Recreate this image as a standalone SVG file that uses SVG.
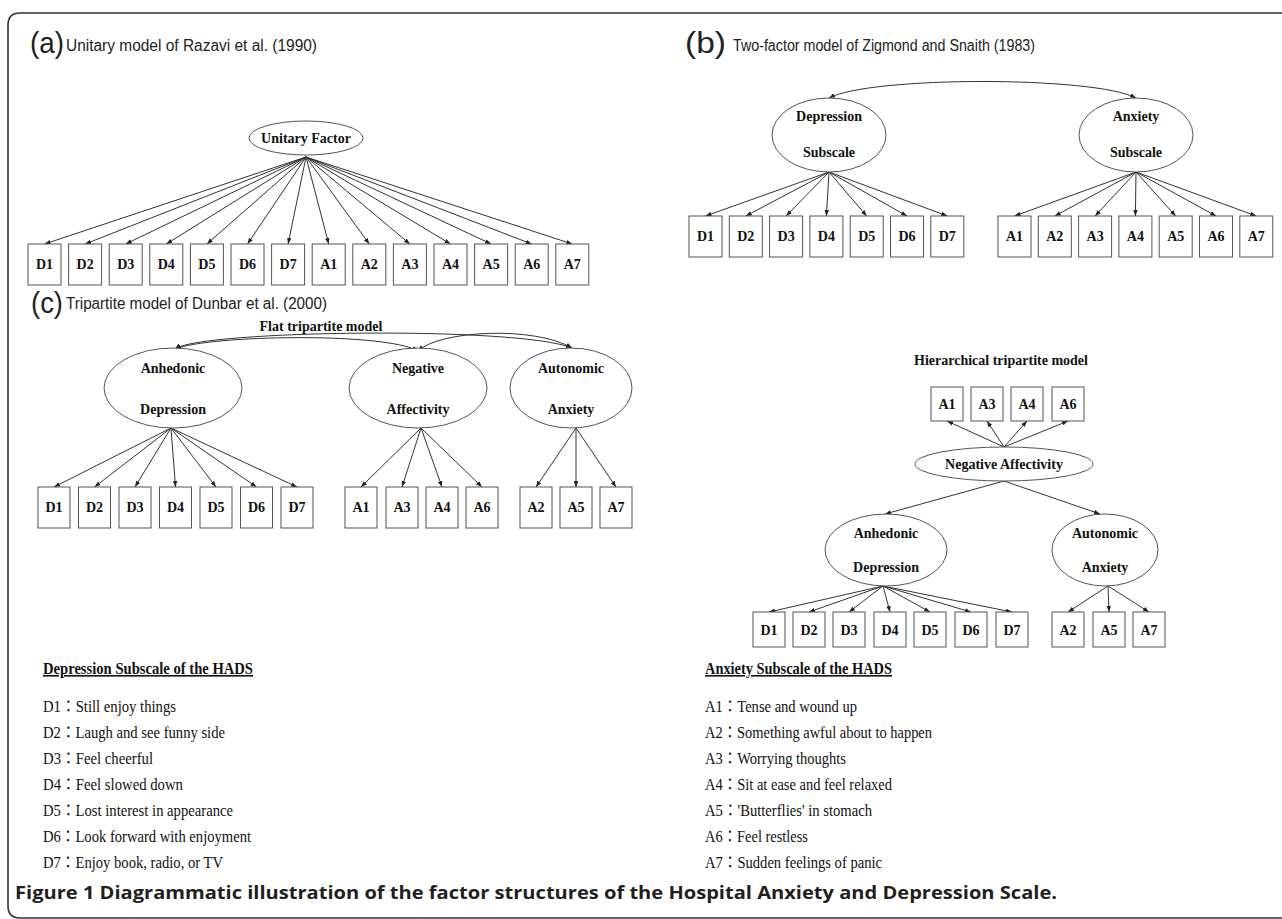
<svg xmlns="http://www.w3.org/2000/svg" width="1282" height="919" viewBox="0 0 1282 919">
<style>
.bg{fill:#fff}
.frame{fill:none;stroke:#333;stroke-width:1.6}
.box{fill:#fff;stroke:#555;stroke-width:1}
.ell{fill:#fff;stroke:#555;stroke-width:1}
.lbl{font-family:"Liberation Serif","Times New Roman",serif;font-weight:bold;font-size:14px;fill:#111;text-anchor:middle}
.ttl{font-family:"Liberation Sans",Arial,sans-serif;font-size:16px;fill:#222}
.big{font-family:"Liberation Sans",Arial,sans-serif;font-size:29px;fill:#222}
.sub{font-family:"Liberation Serif","Times New Roman",serif;font-weight:bold;font-size:14px;fill:#111;text-anchor:middle}
.leg{font-family:"Liberation Serif","Noto Sans CJK TC",serif;font-size:16px;fill:#111}
.legh{font-family:"Liberation Serif","Times New Roman",serif;font-weight:bold;font-size:16px;fill:#111;text-decoration:underline}
.cap{font-family:"Open Sans","Liberation Sans",sans-serif;font-weight:bold;font-size:18px;fill:#231f20}
.con path,.con line{fill:none;stroke:#333;stroke-width:1;marker-end:url(#ah)}
.con .dbl{marker-start:url(#ah)}
</style>
<defs>
<marker id="ah" viewBox="0 0 8 6" refX="8" refY="3" markerWidth="6" markerHeight="5" markerUnits="userSpaceOnUse" orient="auto-start-reverse"><path d="M0,0 L8,3 L0,6 z" fill="#222"/></marker>
</defs>
<rect class="bg" x="0" y="0" width="1282" height="919"/>
<path class="frame" d="M1290,918 L20,918 Q8,918 8,906 L8,25 Q8,13 20,13 L1290,13"/>

<!-- Panel titles -->
<text class="big" x="30" y="53" textLength="34" lengthAdjust="spacingAndGlyphs">(a)</text>
<text class="ttl" x="66" y="51" textLength="251" lengthAdjust="spacingAndGlyphs">Unitary model of Razavi et al. (1990)</text>
<text class="big" x="685" y="53" textLength="41" lengthAdjust="spacingAndGlyphs">(b)</text>
<text class="ttl" x="733" y="51" textLength="302" lengthAdjust="spacingAndGlyphs">Two-factor model of Zigmond and Snaith (1983)</text>
<text class="big" x="31" y="313" textLength="32" lengthAdjust="spacingAndGlyphs">(c)</text>
<text class="ttl" x="66" y="309" textLength="261" lengthAdjust="spacingAndGlyphs">Tripartite model of Dunbar et al. (2000)</text>
<text class="sub" x="321" y="331">Flat tripartite model</text>
<text class="sub" x="1001" y="365">Hierarchical tripartite model</text>

<!-- Connectors -->
<g id="connectors" class="con">
<!-- (a) -->
<line x1="306" y1="157" x2="44.5" y2="244"/>
<line x1="306" y1="157" x2="85.1" y2="244"/>
<line x1="306" y1="157" x2="125.7" y2="244"/>
<line x1="306" y1="157" x2="166.3" y2="244"/>
<line x1="306" y1="157" x2="206.9" y2="244"/>
<line x1="306" y1="157" x2="247.5" y2="244"/>
<line x1="306" y1="157" x2="288.1" y2="244"/>
<line x1="306" y1="157" x2="328.7" y2="244"/>
<line x1="306" y1="157" x2="369.3" y2="244"/>
<line x1="306" y1="157" x2="409.9" y2="244"/>
<line x1="306" y1="157" x2="450.5" y2="244"/>
<line x1="306" y1="157" x2="491.1" y2="244"/>
<line x1="306" y1="157" x2="531.7" y2="244"/>
<line x1="306" y1="157" x2="572.3" y2="244"/>
<!-- (b) -->
<path class="dbl" d="M829,98 C870,76 1095,76 1136,98"/>
<line x1="829" y1="172" x2="705.5" y2="216"/>
<line x1="829" y1="172" x2="745.8" y2="216"/>
<line x1="829" y1="172" x2="786.1" y2="216"/>
<line x1="829" y1="172" x2="826.4" y2="216"/>
<line x1="829" y1="172" x2="866.7" y2="216"/>
<line x1="829" y1="172" x2="907" y2="216"/>
<line x1="829" y1="172" x2="947.3" y2="216"/>
<line x1="1136" y1="172" x2="1014.5" y2="216"/>
<line x1="1136" y1="172" x2="1054.8" y2="216"/>
<line x1="1136" y1="172" x2="1095.1" y2="216"/>
<line x1="1136" y1="172" x2="1135.4" y2="216"/>
<line x1="1136" y1="172" x2="1175.7" y2="216"/>
<line x1="1136" y1="172" x2="1216" y2="216"/>
<line x1="1136" y1="172" x2="1256.3" y2="216"/>
<!-- (c) flat -->
<path class="dbl" d="M175,349 C200,330 520,326 572,348"/>
<path class="dbl" d="M175,349 C210,335 385,332 418,351"/>
<path class="dbl" d="M418,351 C440,330 535,326 572,348"/>
<line x1="171" y1="428" x2="54" y2="487"/>
<line x1="171" y1="428" x2="94.5" y2="487"/>
<line x1="171" y1="428" x2="135" y2="487"/>
<line x1="171" y1="428" x2="175.5" y2="487"/>
<line x1="171" y1="428" x2="216" y2="487"/>
<line x1="171" y1="428" x2="256.5" y2="487"/>
<line x1="171" y1="428" x2="297" y2="487"/>
<line x1="421" y1="428" x2="361" y2="487"/>
<line x1="421" y1="428" x2="402" y2="487"/>
<line x1="421" y1="428" x2="442" y2="487"/>
<line x1="421" y1="428" x2="482" y2="487"/>
<line x1="576" y1="428" x2="536" y2="487"/>
<line x1="576" y1="428" x2="576" y2="487"/>
<line x1="576" y1="428" x2="616" y2="487"/>
<!-- hierarchical -->
<line x1="1004" y1="447" x2="947" y2="421"/>
<line x1="1004" y1="447" x2="987" y2="421"/>
<line x1="1004" y1="447" x2="1027" y2="421"/>
<line x1="1004" y1="447" x2="1068" y2="421"/>
<line x1="1004" y1="481" x2="885" y2="514"/>
<line x1="1004" y1="481" x2="1100" y2="514"/>
<line x1="883" y1="586" x2="769" y2="612"/>
<line x1="883" y1="586" x2="809" y2="612"/>
<line x1="883" y1="586" x2="849" y2="612"/>
<line x1="883" y1="586" x2="890" y2="612"/>
<line x1="883" y1="586" x2="930" y2="612"/>
<line x1="883" y1="586" x2="971" y2="612"/>
<line x1="883" y1="586" x2="1012" y2="612"/>
<line x1="1108" y1="586" x2="1068" y2="612"/>
<line x1="1108" y1="586" x2="1109" y2="612"/>
<line x1="1108" y1="586" x2="1149" y2="612"/>
</g>

<!-- (a) nodes -->
<g id="a-unitary"><ellipse class="ell" cx="306" cy="138" rx="57" ry="17"/><text class="lbl" x="306" y="143" font-size="13">Unitary Factor</text></g>
<g id="a-D1"><rect class="box" x="28" y="244" width="33" height="41"/><text class="lbl" x="44.5" y="269">D1</text></g>
<g id="a-D2"><rect class="box" x="68.6" y="244" width="33" height="41"/><text class="lbl" x="85.1" y="269">D2</text></g>
<g id="a-D3"><rect class="box" x="109.2" y="244" width="33" height="41"/><text class="lbl" x="125.7" y="269">D3</text></g>
<g id="a-D4"><rect class="box" x="149.8" y="244" width="33" height="41"/><text class="lbl" x="166.3" y="269">D4</text></g>
<g id="a-D5"><rect class="box" x="190.4" y="244" width="33" height="41"/><text class="lbl" x="206.9" y="269">D5</text></g>
<g id="a-D6"><rect class="box" x="231" y="244" width="33" height="41"/><text class="lbl" x="247.5" y="269">D6</text></g>
<g id="a-D7"><rect class="box" x="271.6" y="244" width="33" height="41"/><text class="lbl" x="288.1" y="269">D7</text></g>
<g id="a-A1"><rect class="box" x="312.2" y="244" width="33" height="41"/><text class="lbl" x="328.7" y="269">A1</text></g>
<g id="a-A2"><rect class="box" x="352.8" y="244" width="33" height="41"/><text class="lbl" x="369.3" y="269">A2</text></g>
<g id="a-A3"><rect class="box" x="393.4" y="244" width="33" height="41"/><text class="lbl" x="409.9" y="269">A3</text></g>
<g id="a-A4"><rect class="box" x="434" y="244" width="33" height="41"/><text class="lbl" x="450.5" y="269">A4</text></g>
<g id="a-A5"><rect class="box" x="474.6" y="244" width="33" height="41"/><text class="lbl" x="491.1" y="269">A5</text></g>
<g id="a-A6"><rect class="box" x="515.2" y="244" width="33" height="41"/><text class="lbl" x="531.7" y="269">A6</text></g>
<g id="a-A7"><rect class="box" x="555.8" y="244" width="33" height="41"/><text class="lbl" x="572.3" y="269">A7</text></g>

<!-- (b) nodes -->
<g id="b-depression"><ellipse class="ell" cx="829" cy="135" rx="57" ry="37"/><text class="lbl" x="829" y="121">Depression</text><text class="lbl" x="829" y="157">Subscale</text></g>
<g id="b-anxiety"><ellipse class="ell" cx="1136" cy="135" rx="57" ry="37"/><text class="lbl" x="1136" y="121">Anxiety</text><text class="lbl" x="1136" y="157">Subscale</text></g>
<g id="b-D1"><rect class="box" x="689" y="216" width="33" height="41"/><text class="lbl" x="705.5" y="241">D1</text></g>
<g id="b-D2"><rect class="box" x="729.3" y="216" width="33" height="41"/><text class="lbl" x="745.8" y="241">D2</text></g>
<g id="b-D3"><rect class="box" x="769.6" y="216" width="33" height="41"/><text class="lbl" x="786.1" y="241">D3</text></g>
<g id="b-D4"><rect class="box" x="809.9" y="216" width="33" height="41"/><text class="lbl" x="826.4" y="241">D4</text></g>
<g id="b-D5"><rect class="box" x="850.2" y="216" width="33" height="41"/><text class="lbl" x="866.7" y="241">D5</text></g>
<g id="b-D6"><rect class="box" x="890.5" y="216" width="33" height="41"/><text class="lbl" x="907" y="241">D6</text></g>
<g id="b-D7"><rect class="box" x="930.8" y="216" width="33" height="41"/><text class="lbl" x="947.3" y="241">D7</text></g>
<g id="b-A1"><rect class="box" x="998" y="216" width="33" height="41"/><text class="lbl" x="1014.5" y="241">A1</text></g>
<g id="b-A2"><rect class="box" x="1038.3" y="216" width="33" height="41"/><text class="lbl" x="1054.8" y="241">A2</text></g>
<g id="b-A3"><rect class="box" x="1078.6" y="216" width="33" height="41"/><text class="lbl" x="1095.1" y="241">A3</text></g>
<g id="b-A4"><rect class="box" x="1118.9" y="216" width="33" height="41"/><text class="lbl" x="1135.4" y="241">A4</text></g>
<g id="b-A5"><rect class="box" x="1159.2" y="216" width="33" height="41"/><text class="lbl" x="1175.7" y="241">A5</text></g>
<g id="b-A6"><rect class="box" x="1199.5" y="216" width="33" height="41"/><text class="lbl" x="1216" y="241">A6</text></g>
<g id="b-A7"><rect class="box" x="1239.8" y="216" width="33" height="41"/><text class="lbl" x="1256.3" y="241">A7</text></g>

<!-- (c) flat nodes -->
<g id="cf-anhedonic"><ellipse class="ell" cx="173" cy="388" rx="69" ry="40"/><text class="lbl" x="173" y="373">Anhedonic</text><text class="lbl" x="173" y="414">Depression</text></g>
<g id="cf-negative"><ellipse class="ell" cx="418" cy="388" rx="69" ry="40"/><text class="lbl" x="418" y="373">Negative</text><text class="lbl" x="418" y="414">Affectivity</text></g>
<g id="cf-autonomic"><ellipse class="ell" cx="571" cy="388" rx="61" ry="40"/><text class="lbl" x="571" y="373">Autonomic</text><text class="lbl" x="571" y="414">Anxiety</text></g>
<g id="cf-D1"><rect class="box" x="38" y="487" width="32" height="41"/><text class="lbl" x="54" y="512">D1</text></g>
<g id="cf-D2"><rect class="box" x="78.5" y="487" width="32" height="41"/><text class="lbl" x="94.5" y="512">D2</text></g>
<g id="cf-D3"><rect class="box" x="119" y="487" width="32" height="41"/><text class="lbl" x="135" y="512">D3</text></g>
<g id="cf-D4"><rect class="box" x="159.5" y="487" width="32" height="41"/><text class="lbl" x="175.5" y="512">D4</text></g>
<g id="cf-D5"><rect class="box" x="200" y="487" width="32" height="41"/><text class="lbl" x="216" y="512">D5</text></g>
<g id="cf-D6"><rect class="box" x="240.5" y="487" width="32" height="41"/><text class="lbl" x="256.5" y="512">D6</text></g>
<g id="cf-D7"><rect class="box" x="281" y="487" width="32" height="41"/><text class="lbl" x="297" y="512">D7</text></g>
<g id="cf-A1"><rect class="box" x="345" y="487" width="32" height="41"/><text class="lbl" x="361" y="512">A1</text></g>
<g id="cf-A3"><rect class="box" x="386" y="487" width="32" height="41"/><text class="lbl" x="402" y="512">A3</text></g>
<g id="cf-A4"><rect class="box" x="426" y="487" width="32" height="41"/><text class="lbl" x="442" y="512">A4</text></g>
<g id="cf-A6"><rect class="box" x="466" y="487" width="32" height="41"/><text class="lbl" x="482" y="512">A6</text></g>
<g id="cf-A2"><rect class="box" x="520" y="487" width="32" height="41"/><text class="lbl" x="536" y="512">A2</text></g>
<g id="cf-A5"><rect class="box" x="560" y="487" width="32" height="41"/><text class="lbl" x="576" y="512">A5</text></g>
<g id="cf-A7"><rect class="box" x="600" y="487" width="32" height="41"/><text class="lbl" x="616" y="512">A7</text></g>

<!-- (c) hierarchical nodes -->
<g id="ch-A1"><rect class="box" x="931" y="387" width="32" height="34"/><text class="lbl" x="947" y="409">A1</text></g>
<g id="ch-A3"><rect class="box" x="971" y="387" width="32" height="34"/><text class="lbl" x="987" y="409">A3</text></g>
<g id="ch-A4"><rect class="box" x="1011" y="387" width="32" height="34"/><text class="lbl" x="1027" y="409">A4</text></g>
<g id="ch-A6"><rect class="box" x="1052" y="387" width="32" height="34"/><text class="lbl" x="1068" y="409">A6</text></g>
<g id="ch-negative"><ellipse class="ell" cx="1004" cy="464" rx="89" ry="17"/><text class="lbl" x="1004" y="469">Negative Affectivity</text></g>
<g id="ch-anhedonic"><ellipse class="ell" cx="886" cy="550" rx="61" ry="36"/><text class="lbl" x="886" y="538">Anhedonic</text><text class="lbl" x="886" y="572">Depression</text></g>
<g id="ch-autonomic"><ellipse class="ell" cx="1105" cy="550" rx="53" ry="36"/><text class="lbl" x="1105" y="538">Autonomic</text><text class="lbl" x="1105" y="572">Anxiety</text></g>
<g id="ch-D1"><rect class="box" x="753" y="612" width="32" height="35"/><text class="lbl" x="769" y="635">D1</text></g>
<g id="ch-D2"><rect class="box" x="793" y="612" width="32" height="35"/><text class="lbl" x="809" y="635">D2</text></g>
<g id="ch-D3"><rect class="box" x="833" y="612" width="32" height="35"/><text class="lbl" x="849" y="635">D3</text></g>
<g id="ch-D4"><rect class="box" x="874" y="612" width="32" height="35"/><text class="lbl" x="890" y="635">D4</text></g>
<g id="ch-D5"><rect class="box" x="914" y="612" width="32" height="35"/><text class="lbl" x="930" y="635">D5</text></g>
<g id="ch-D6"><rect class="box" x="955" y="612" width="32" height="35"/><text class="lbl" x="971" y="635">D6</text></g>
<g id="ch-D7"><rect class="box" x="996" y="612" width="32" height="35"/><text class="lbl" x="1012" y="635">D7</text></g>
<g id="ch-A2"><rect class="box" x="1052" y="612" width="32" height="35"/><text class="lbl" x="1068" y="635">A2</text></g>
<g id="ch-A5"><rect class="box" x="1093" y="612" width="32" height="35"/><text class="lbl" x="1109" y="635">A5</text></g>
<g id="ch-A7"><rect class="box" x="1133" y="612" width="32" height="35"/><text class="lbl" x="1149" y="635">A7</text></g>

<!-- Legend -->
<g id="legend-depression">
<text class="legh" x="43" y="674" textLength="210" lengthAdjust="spacingAndGlyphs">Depression Subscale of the HADS</text>
<text class="leg" x="43" y="712" textLength="133" lengthAdjust="spacingAndGlyphs">D1：Still enjoy things</text>
<text class="leg" x="43" y="738" textLength="182" lengthAdjust="spacingAndGlyphs">D2：Laugh and see funny side</text>
<text class="leg" x="43" y="764" textLength="110" lengthAdjust="spacingAndGlyphs">D3：Feel cheerful</text>
<text class="leg" x="43" y="790" textLength="140" lengthAdjust="spacingAndGlyphs">D4：Feel slowed down</text>
<text class="leg" x="43" y="816" textLength="190" lengthAdjust="spacingAndGlyphs">D5：Lost interest in appearance</text>
<text class="leg" x="43" y="842" textLength="208" lengthAdjust="spacingAndGlyphs">D6：Look forward with enjoyment</text>
<text class="leg" x="43" y="868" textLength="180" lengthAdjust="spacingAndGlyphs">D7：Enjoy book, radio, or TV</text>
</g>
<g id="legend-anxiety">
<text class="legh" x="705" y="674" textLength="187" lengthAdjust="spacingAndGlyphs">Anxiety Subscale of the HADS</text>
<text class="leg" x="705" y="712" textLength="152" lengthAdjust="spacingAndGlyphs">A1：Tense and wound up</text>
<text class="leg" x="705" y="738" textLength="227" lengthAdjust="spacingAndGlyphs">A2：Something awful about to happen</text>
<text class="leg" x="705" y="764" textLength="141" lengthAdjust="spacingAndGlyphs">A3：Worrying thoughts</text>
<text class="leg" x="705" y="790" textLength="187" lengthAdjust="spacingAndGlyphs">A4：Sit at ease and feel relaxed</text>
<text class="leg" x="705" y="816" textLength="167" lengthAdjust="spacingAndGlyphs">A5：'Butterflies' in stomach</text>
<text class="leg" x="705" y="842" textLength="103" lengthAdjust="spacingAndGlyphs">A6：Feel restless</text>
<text class="leg" x="705" y="868" textLength="177" lengthAdjust="spacingAndGlyphs">A7：Sudden feelings of panic</text>
</g>

<text class="cap" x="15" y="899" textLength="1042" lengthAdjust="spacingAndGlyphs">Figure 1 Diagrammatic illustration of the factor structures of the Hospital Anxiety and Depression Scale.</text>
</svg>
